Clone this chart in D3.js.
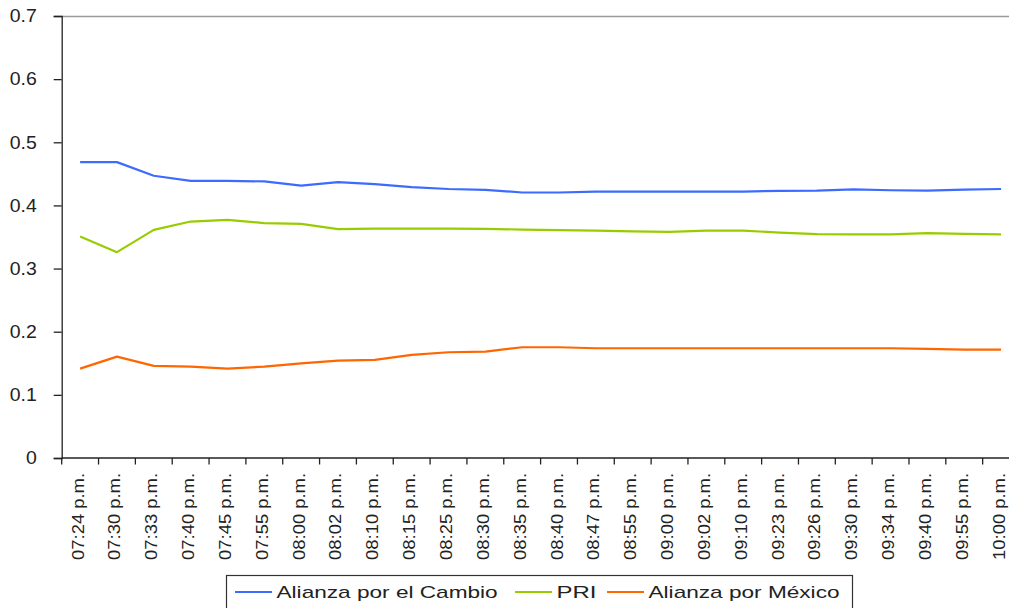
<!DOCTYPE html>
<html>
<head>
<meta charset="utf-8">
<script src="https://cdn.jsdelivr.net/npm/d3@7"></script>
<style>
  html, body { margin: 0; padding: 0; background: #fff; }
  svg { display: block; }
  text { font-family: "Liberation Sans", Arial, sans-serif; fill: #222; }
</style>
</head>
<body>
<svg id="chart" width="1009" height="608"></svg>
<script>
const categories = ["07:24 p.m.", "07:30 p.m.", "07:33 p.m.", "07:40 p.m.", "07:45 p.m.", "07:55 p.m.",
  "08:00 p.m.", "08:02 p.m.", "08:10 p.m.", "08:15 p.m.", "08:25 p.m.", "08:30 p.m.", "08:35 p.m.",
  "08:40 p.m.", "08:47 p.m.", "08:55 p.m.", "09:00 p.m.", "09:02 p.m.", "09:10 p.m.", "09:23 p.m.",
  "09:26 p.m.", "09:30 p.m.", "09:34 p.m.", "09:40 p.m.", "09:55 p.m.", "10:00 p.m."];

const alianzaCambio = [0.4686, 0.4686, 0.447, 0.439, 0.439, 0.438, 0.4315, 0.437, 0.4337, 0.429,
  0.426, 0.4247, 0.4205, 0.4205, 0.422, 0.422, 0.422, 0.422, 0.422, 0.4231,
  0.4236, 0.4255, 0.424, 0.4236, 0.425, 0.426];

const pri = [0.3507, 0.326, 0.3613, 0.3745, 0.3772, 0.372, 0.3708, 0.3624, 0.3634, 0.3634,
  0.3634, 0.363, 0.3618, 0.361, 0.3602, 0.359, 0.358, 0.3602, 0.360, 0.357,
  0.3545, 0.354, 0.354, 0.356, 0.355, 0.354];

const alianzaMexico = [0.1415, 0.1606, 0.1458, 0.1447, 0.1415, 0.1447, 0.150, 0.1542, 0.1553, 0.1632,
  0.1675, 0.1685, 0.1754, 0.1754, 0.1738, 0.1738, 0.1738, 0.1738, 0.1738, 0.1738,
  0.1738, 0.1738, 0.1738, 0.1727, 0.1716, 0.1716];

const seriesNames = ["Alianza por el Cambio", "PRI", "Alianza por México"];
const seriesColors = ["#3d6bff", "#99cc00", "#ff6600"];
const yTicks = [0, 0.1, 0.2, 0.3, 0.4, 0.5, 0.6, 0.7];

const series = [alianzaCambio, pri, alianzaMexico];

const svg = d3.select("#chart");
const plotLeft = 61.7, plotRight = 1019.5, plotTop = 16, plotBottom = 458;

const x = d3.scaleBand().domain(categories).range([plotLeft, plotRight]).padding(0);
const y = d3.scaleLinear().domain([0, 0.7]).range([plotBottom, plotTop]);
const cx = c => x(c) + x.bandwidth() / 2;

// top border
svg.append("line").attr("x1", plotLeft).attr("x2", plotRight).attr("y1", plotTop + 0.5).attr("y2", plotTop + 0.5)
  .attr("stroke", "#9a9a9a").attr("stroke-width", 1.5);

// Y axis
const yAxis = svg.append("g").attr("transform", `translate(${plotLeft},0)`)
  .call(d3.axisLeft(y).tickValues(yTicks).tickFormat(d => d === 0 ? "0" : d.toFixed(1))
    .tickSize(8).tickPadding(17));
yAxis.select(".domain").attr("stroke", "#222").attr("stroke-width", 1.3);
yAxis.selectAll(".tick line").attr("stroke", "#222").attr("stroke-width", 1.3);
yAxis.selectAll(".tick text").attr("font-size", 18).attr("fill", "#222")
  .style("font-family", "'Liberation Sans', Arial, sans-serif")
  .each(function() {
    const w = this.getComputedTextLength();
    d3.select(this).attr("textLength", w * 1.08).attr("lengthAdjust", "spacingAndGlyphs");
  });

// X axis (ticks at category boundaries)
const xg = svg.append("g");
xg.append("line").attr("x1", plotLeft).attr("x2", plotRight).attr("y1", plotBottom).attr("y2", plotBottom)
  .attr("stroke", "#222").attr("stroke-width", 1.3);
const bounds = categories.map(c => x(c)).concat([plotRight]);
xg.selectAll("line.tick").data(bounds).enter().append("line").attr("class", "tick")
  .attr("x1", d => d).attr("x2", d => d).attr("y1", plotBottom).attr("y2", plotBottom + 6.5)
  .attr("stroke", "#222").attr("stroke-width", 1.3);
xg.selectAll("text").data(categories).enter().append("text")
  .attr("transform", d => `translate(${cx(d)},${plotBottom + 15}) rotate(-90)`)
  .attr("text-anchor", "end").attr("dy", 3.5).attr("font-size", 16)
  .text(d => d)
  .each(function() {
    const w = this.getComputedTextLength();
    d3.select(this).attr("textLength", w * 1.15).attr("lengthAdjust", "spacingAndGlyphs");
  });

// lines
const line = d3.line().x((d, i) => cx(categories[i])).y(d => y(d));
series.forEach((s, k) => {
  svg.append("path").datum(s).attr("d", line).attr("fill", "none")
    .attr("stroke", seriesColors[k]).attr("stroke-width", 2.2)
    .attr("stroke-linejoin", "round");
});

// legend
const lg = svg.append("g");
lg.append("rect").attr("x", 226.5).attr("y", 575.5).attr("width", 626).attr("height", 45)
  .attr("fill", "#fff").attr("stroke", "#333").attr("stroke-width", 1.2);
const legendX = [235, 515, 607];
const legendTextScale = [1.33, 1.41, 1.33];
seriesNames.forEach((name, k) => {
  lg.append("line").attr("x1", legendX[k]).attr("x2", legendX[k] + 37)
    .attr("y1", 592).attr("y2", 592).attr("stroke", seriesColors[k]).attr("stroke-width", 2.2);
  const t = lg.append("text").attr("x", legendX[k] + 41.5).attr("y", 597.5)
    .attr("font-size", 17).text(name);
  const w = t.node().getComputedTextLength();
  t.attr("textLength", w * legendTextScale[k]).attr("lengthAdjust", "spacingAndGlyphs");
});
</script>
</body>
</html>
